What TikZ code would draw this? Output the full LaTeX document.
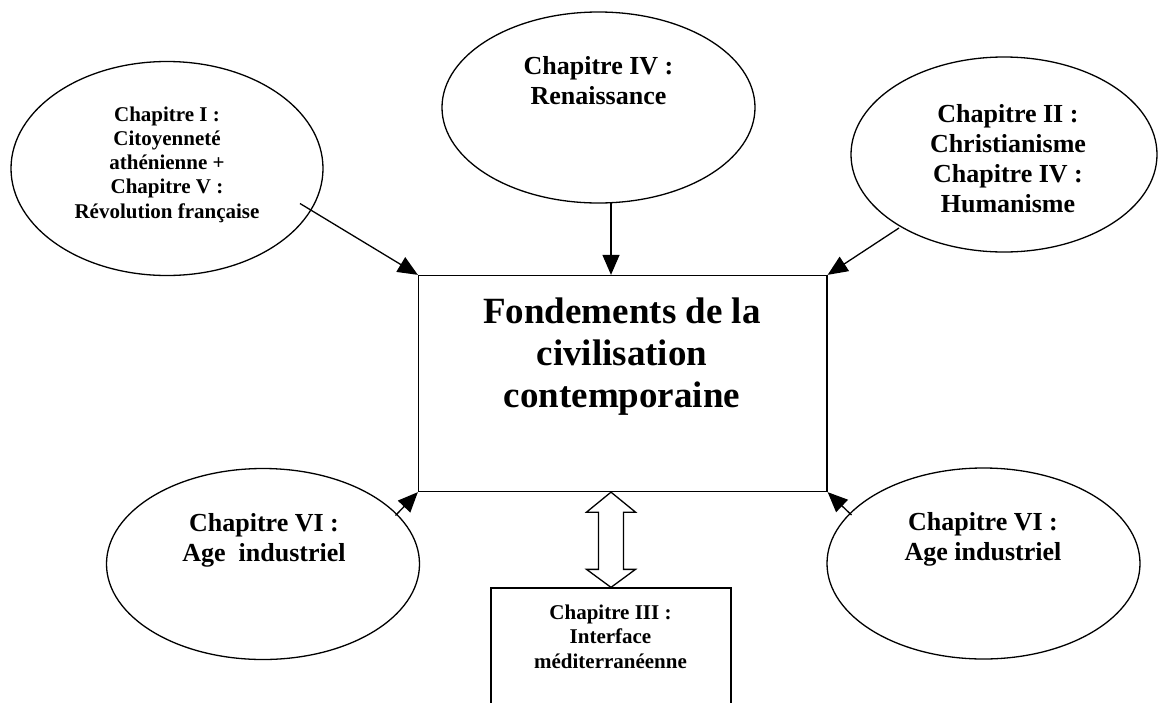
\documentclass[tikz,border=0pt]{standalone}
\usepackage{fontspec}
\setmainfont{Liberation Serif}
\usetikzlibrary{arrows.meta,shapes.geometric,calc}
\begin{document}
\begin{tikzpicture}[x=1pt,y=-1pt,
  shapeline/.style={draw=black,line width=1.3pt},
  oval/.style={shapeline,ellipse,inner sep=0pt},
  boxnode/.style={shapeline,rectangle,inner sep=0pt},
  bigtxt/.style={font=\bfseries\fontsize{37}{42}\selectfont,align=center,inner sep=0pt,anchor=north},
  midtxt/.style={font=\bfseries\fontsize{26}{30}\selectfont,align=center,inner sep=0pt,anchor=north},
  smalltxt/.style={font=\bfseries\fontsize{21}{24.2}\selectfont,align=center,inner sep=0pt,anchor=north},
  link/.style={line width=1.3pt,-{Triangle[length=20pt,width=17pt]}},
  dblarrow/.style={line width=1.3pt,line join=miter}
]
\useasboundingbox (0,0) rectangle (1160,702);
\clip (0,0) rectangle (1160,702);

% ellipses
\node[oval,minimum width=312pt,minimum height=214pt] (e1) at (167,168.5) {};
\node[smalltxt] (e1t) at (167,106.5) {Chapitre I :\\Citoyennet\'e\\ath\'enienne +\\Chapitre V :\\R\'evolution fran\c{c}aise};

\node[oval,minimum width=313pt,minimum height=191pt] (e2) at (598.5,107.5) {};
\node[midtxt] (e2t) at (598.5,56.4) {Chapitre IV :\\Renaissance};

\node[oval,minimum width=306pt,minimum height=195pt] (e3) at (1004,154.5) {};
\node[midtxt] (e3t) at (1008,104.1) {Chapitre II :\\Christianisme\\Chapitre IV :\\Humanisme};

\node[oval,minimum width=313pt,minimum height=191pt] (e4) at (263,564) {};
\node[midtxt] (e4t) at (264,512.9) {Chapitre VI :\\Age~ industriel};

\node[oval,minimum width=313pt,minimum height=191pt] (e5) at (983.5,563.5) {};
\node[midtxt] (e5t) at (983,512.4) {Chapitre VI :\\Age industriel};

% central box
\node[boxnode,minimum width=408.5pt,minimum height=216pt] (main) at (622.75,383.5) {};
\node[bigtxt] (maint) at (622,298) {Fondements de la\\civilisation\\contemporaine};

% bottom box (runs off the page)
\node[boxnode,minimum width=240pt,minimum height=160pt] (sub) at (611,668) {};
\node[smalltxt] (subt) at (610.5,605) {Chapitre III :\\Interface\\m\'editerran\'eenne};

% connectors
\coordinate (s1) at (300,203.5);
\draw[link] (s1) -- (main.north west);
\coordinate (s2) at (611,203);
\draw[link] (s2) -- (s2 |- main.north);
\coordinate (s3) at (899,228);
\draw[link] (s3) -- (main.north east);
\coordinate (s4) at (395.5,515.5);
\draw[link] (s4) -- (main.south west);
\coordinate (s5) at (851.5,515);
\draw[link] (s5) -- (main.south east);

% hollow double arrow
\coordinate (dtop) at (s2 |- main.south);
\coordinate (dbot) at (dtop |- sub.north);
\draw[dblarrow] (dtop) -- ($(dtop)+(24.5,20)$) -- ($(dtop)+(12.5,20)$)
  -- ($(dbot)+(12.5,-18)$) -- ($(dbot)+(24.5,-18)$) -- (dbot)
  -- ($(dbot)+(-24.5,-18)$) -- ($(dbot)+(-12.5,-18)$)
  -- ($(dtop)+(-12.5,20)$) -- ($(dtop)+(-24.5,20)$) -- cycle;
\end{tikzpicture}
\end{document}
